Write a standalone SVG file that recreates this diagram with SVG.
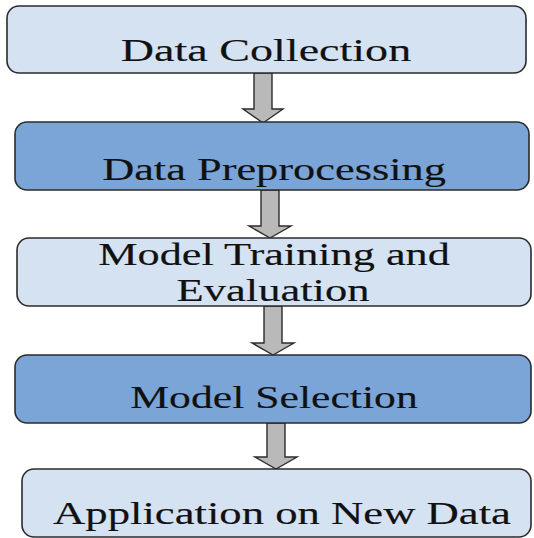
<svg xmlns="http://www.w3.org/2000/svg" width="534" height="538" viewBox="0 0 534 538">
<style>
.light{fill:#d5e2f2;stroke:#2b2b2b;stroke-width:1.6}
.dark{fill:#7ba5d7;stroke:#2b2b2b;stroke-width:1.6}
.arrow{fill:#b9b9b9;stroke:#2b2b2b;stroke-width:1.4;stroke-linejoin:miter}
text{font-family:"Liberation Serif","Times New Roman",serif;font-size:31px;fill:#111;stroke:#111;stroke-width:0.15;text-anchor:middle}
</style>
<rect width="534" height="538" fill="#ffffff"/>
<g id="connectors">
<polygon class="arrow" points="254,73 272,73 272,109 283,109 263,123 243,109 254,109"/>
<polygon class="arrow" points="261,190 279,190 279,226 291,226 270,238 249,226 261,226"/>
<polygon class="arrow" points="264,306 282,306 282,343 294,343 273,355 252,343 264,343"/>
<polygon class="arrow" points="267,423 285,423 285,457 297,457 276,469 255,457 267,457"/>
</g>
<g id="node1">
<rect class="light" x="7" y="6" width="519" height="67" rx="12"/>
<text transform="translate(266,61) scale(1.486,1)" font-size="30">Data Collection</text>
</g>
<g id="node2">
<rect class="dark" x="15" y="122" width="514" height="68" rx="12"/>
<text transform="translate(274,180) scale(1.432,1)">Data Preprocessing</text>
</g>
<g id="node3">
<rect class="light" x="17" y="238" width="514" height="68" rx="12"/>
<text transform="translate(274,265) scale(1.428,1)">Model Training and</text>
<text transform="translate(273,301) scale(1.437,1)">Evaluation</text>
</g>
<g id="node4">
<rect class="dark" x="15" y="355" width="516" height="68" rx="12"/>
<text transform="translate(274,408) scale(1.41,1)">Model Selection</text>
</g>
<g id="node5">
<rect class="light" x="22" y="469" width="509" height="68" rx="12"/>
<text transform="translate(282,524) scale(1.442,1)">Application on New Data</text>
</g>
</svg>
